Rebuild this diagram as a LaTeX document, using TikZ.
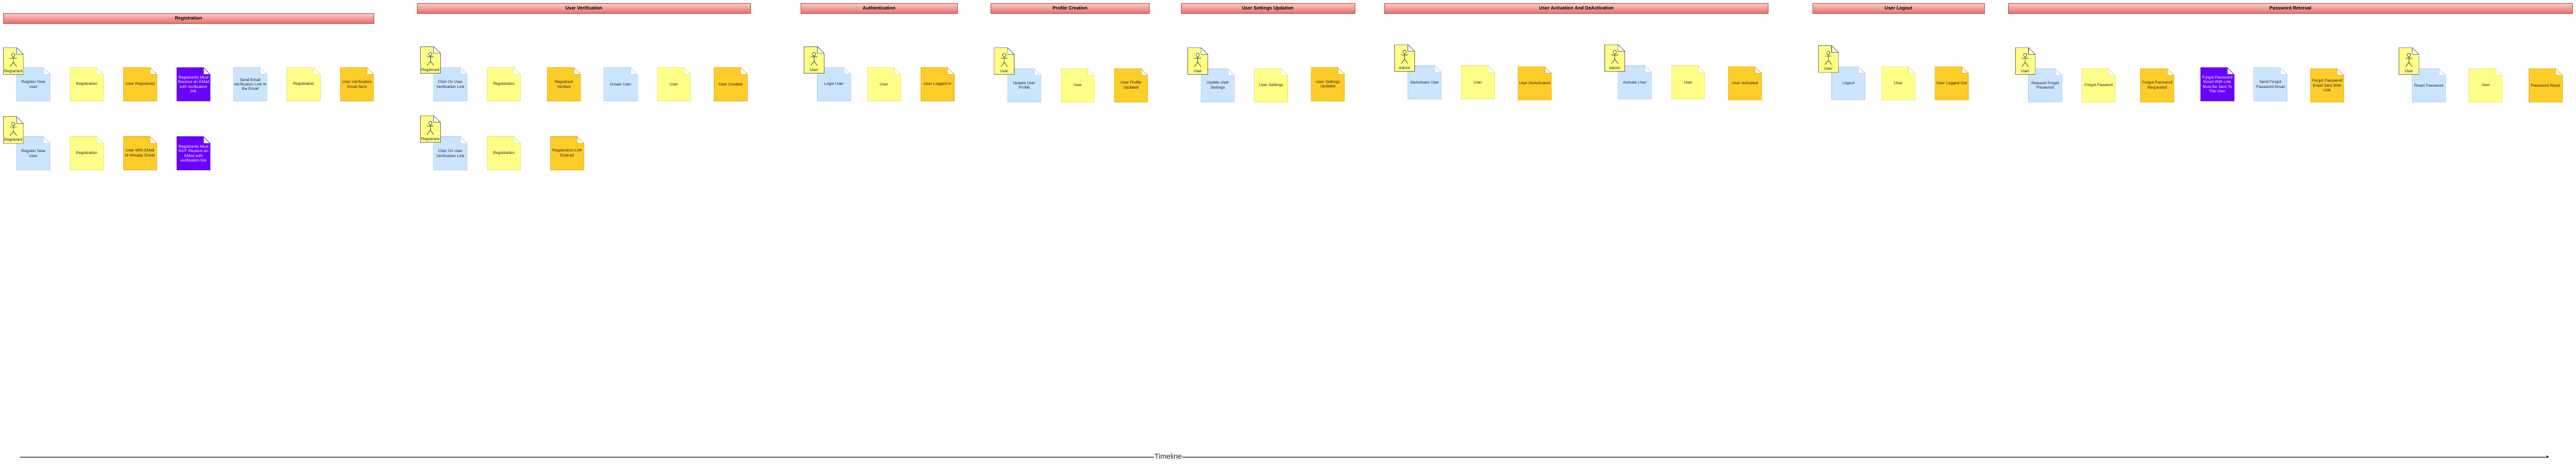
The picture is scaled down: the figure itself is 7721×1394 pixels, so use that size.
\documentclass[tikz,border=0pt]{standalone}
\usepackage{fontspec}
\setmainfont{Liberation Sans}
\usepackage{xcolor}
\usepackage{tikz}
\usetikzlibrary{arrows.meta,positioning}
\definecolor{cmdfill}{HTML}{CCE5FF}
\definecolor{cmdline}{HTML}{A9C4EB}
\definecolor{viewfill}{HTML}{FFFF88}
\definecolor{viewline}{HTML}{E0DC6E}
\definecolor{evtfill}{HTML}{FFCD28}
\definecolor{evtline}{HTML}{D79B00}
\definecolor{rulefill}{HTML}{6A00FF}
\definecolor{ruleline}{HTML}{3700CC}
\definecolor{actorline}{HTML}{36393D}
\definecolor{hdrtop}{HTML}{F8CECC}
\definecolor{hdrbot}{HTML}{EA6B66}
\definecolor{hdrline}{HTML}{B85450}
\definecolor{inktext}{HTML}{262626}
\makeatletter
\pgfdeclareshape{dognote}{
  \inheritsavedanchors[from=rectangle]
  \inheritanchorborder[from=rectangle]
  \inheritanchor[from=rectangle]{center}
  \inheritanchor[from=rectangle]{text}
  \inheritanchor[from=rectangle]{north}
  \inheritanchor[from=rectangle]{south}
  \inheritanchor[from=rectangle]{east}
  \inheritanchor[from=rectangle]{west}
  \inheritanchor[from=rectangle]{north west}
  \inheritanchor[from=rectangle]{north east}
  \inheritanchor[from=rectangle]{south west}
  \inheritanchor[from=rectangle]{south east}
  \backgroundpath{
    \southwest \pgf@xa=\pgf@x \pgf@ya=\pgf@y
    \northeast \pgf@xb=\pgf@x \pgf@yb=\pgf@y
    \pgf@xc=\pgf@xb \advance\pgf@xc by -20pt
    \pgf@yc=\pgf@yb \advance\pgf@yc by -20pt
    \pgfpathmoveto{\pgfqpoint{\pgf@xa}{\pgf@ya}}
    \pgfpathlineto{\pgfqpoint{\pgf@xa}{\pgf@yb}}
    \pgfpathlineto{\pgfqpoint{\pgf@xc}{\pgf@yb}}
    \pgfpathlineto{\pgfqpoint{\pgf@xb}{\pgf@yc}}
    \pgfpathlineto{\pgfqpoint{\pgf@xb}{\pgf@ya}}
    \pgfpathclose
    \pgfpathmoveto{\pgfqpoint{\pgf@xc}{\pgf@yb}}
    \pgfpathlineto{\pgfqpoint{\pgf@xc}{\pgf@yc}}
    \pgfpathlineto{\pgfqpoint{\pgf@xb}{\pgf@yc}}
  }
}
\makeatother

\begin{document}
\begin{tikzpicture}[x=1pt,y=1pt,line width=1pt,
      note/.style={shape=dognote,minimum width=100pt,minimum height=100pt,inner sep=0pt,outer sep=0pt,
                  align=center,text=inktext,font=\fontsize{12}{14}\selectfont},
      cmdnote/.style={note,draw=cmdline,fill=cmdfill},
      viewnote/.style={note,draw=viewline,fill=viewfill},
      evtnote/.style={note,draw=evtline,fill=evtfill},
      rulenote/.style={note,draw=ruleline,fill=rulefill,text=white},
      actornote/.style={note,draw=actorline,fill=viewfill,anchor=north west,
                  minimum width=60pt,minimum height=80pt,text height=70pt,text depth=2pt},
      stickman/.pic={
        \draw[black,line width=.9pt,fill=white] (0,18) circle[radius=5];
        \draw[black,line width=.9pt] (0,13) -- (0,-4) (-10,9) -- (10,9) (-10,-17) -- (0,-4) -- (10,-17);
      },
      hdr/.style={draw=hdrline,top color=hdrtop,bottom color=hdrbot,anchor=north west,minimum height=30pt,
                  inner sep=0pt,outer sep=0pt,font=\fontsize{14}{16}\selectfont\bfseries},
      ar/.style={-{Stealth[length=8pt,width=8pt]},black,line width=1pt}]
    \useasboundingbox (0,0) rectangle (7721,-1394);

    \node[hdr,minimum width=1110pt] (reghdr) at (10,-40) {Registration};
    \node[cmdnote,anchor=north west] (regcmd) at (50,-203) {Register New\\User};
    \node[viewnote,right=60pt of regcmd] (regview) {Registration};
    \node[evtnote,right=60pt of regview] (regevt) {User Registered};
    \node[rulenote,right=60pt of regevt] (regrule) {Registrants Must\\Receive an EMail\\with verification\\link};
    \node[cmdnote,right=70pt of regrule] (mailcmd) {Send Email\\Verification Link In\\the Email};
    \node[viewnote,right=60pt of mailcmd] (mailview) {Registration};
    \node[evtnote,right=60pt of mailview] (mailevt) {User Verification\\Email Sent};
    \node[actornote] (regactor) at (10,-143) {Registrant};
    \node[cmdnote,anchor=north west] (dupcmd) at (50,-410) {Register New\\User};
    \node[viewnote,right=60pt of dupcmd] (dupview) {Registration};
    \node[evtnote,right=60pt of dupview] (dupevt) {User With EMail\\Id Already Exists};
    \node[rulenote,right=60pt of dupevt] (duprule) {Registrants Must\\NOT Receive an\\EMail with\\verification link};
    \node[actornote] (dupactor) at (10,-350) {Registrant};

    \node[hdr,minimum width=1000pt] (verhdr) at (1250,-10) {User Verification};
    \node[cmdnote,anchor=north west] (vercmd) at (1300,-203) {Click On User\\Verification Link};
    \node[viewnote,right=60pt of vercmd] (verview) {Registration};
    \node[evtnote,right=80pt of verview] (verevt) {Registrant\\Verified};
    \node[cmdnote,right=70pt of verevt] (usercmd) {Create User};
    \node[viewnote,right=60pt of usercmd] (userview) {User};
    \node[evtnote,right=70pt of userview] (userevt) {User Created};
    \node[actornote] (veractor) at (1260,-140) {Registrant};
    \node[cmdnote,anchor=north west] (expcmd) at (1300,-410) {Click On User\\Verification Link};
    \node[viewnote,right=60pt of expcmd] (expview) {Registration};
    \node[evtnote,right=90pt of expview] (expevt) {Registration Link\\Expired};
    \node[actornote] (expactor) at (1260,-347) {Registrant};

    \node[hdr,minimum width=470pt] (authhdr) at (2400,-10) {Authentication};
    \node[cmdnote,anchor=north west] (authcmd) at (2450,-203) {Login User};
    \node[viewnote,right=50pt of authcmd] (authview) {User};
    \node[evtnote,right=60pt of authview] (authevt) {User Logged-In};
    \node[actornote] (authactor) at (2410,-140) {User};

    \node[hdr,minimum width=475pt] (profhdr) at (2970,-10) {Profile Creation};
    \node[cmdnote,anchor=north west] (profcmd) at (3020,-206) {Update User\\Profile};
    \node[viewnote,right=60pt of profcmd] (profview) {User};
    \node[evtnote,right=60pt of profview] (profevt) {User Profile\\Updated};
    \node[actornote] (profactor) at (2980,-143) {User};

    \node[hdr,minimum width=520pt] (sethdr) at (3540,-10) {User Settings Updation};
    \node[cmdnote,anchor=north west] (setcmd) at (3600,-206) {Update User\\Settings};
    \node[viewnote,right=60pt of setcmd] (setview) {User Settings};
    \node[evtnote,right=70pt of setview,yshift=3pt] (setevt) {User Settings\\Updated};
    \node[actornote] (setactor) at (3560,-143) {User};

    \node[hdr,minimum width=1150pt] (acthdr) at (4150,-10) {User Activation And DeActivation};
    \node[cmdnote,anchor=north west] (deacmd) at (4220,-197) {DeActivate User};
    \node[viewnote,right=60pt of deacmd] (deaview) {User};
    \node[evtnote,right=70pt of deaview,yshift=-3pt] (deaevt) {User DeActivated};
    \node[actornote] (deaactor) at (4180,-134) {Admin};
    \node[cmdnote,anchor=north west] (actcmd) at (4850,-197) {Activate User};
    \node[viewnote,right=60pt of actcmd] (actview) {User};
    \node[evtnote,right=70pt of actview,yshift=-3pt] (actevt) {User Activated};
    \node[actornote] (actactor) at (4810,-134) {Admin};

    \node[hdr,minimum width=515pt] (outhdr) at (5433,-10) {User Logout};
    \node[cmdnote,anchor=north west] (outcmd) at (5490,-200) {Logout};
    \node[viewnote,right=50pt of outcmd] (outview) {User};
    \node[evtnote,right=60pt of outview] (outevt) {User Logged-Out};
    \node[actornote] (outactor) at (5450,-137) {User};

    \node[hdr,minimum width=1690pt] (pwdhdr) at (6020,-10) {Password Retreval};
    \node[cmdnote,anchor=north west] (forcmd) at (6080,-206) {Request Forgot\\Password};
    \node[viewnote,right=60pt of forcmd] (forview) {Forgot Pasword};
    \node[evtnote,right=76pt of forview] (forevt) {Forgot Password\\Requested};
    \node[rulenote,right=80pt of forevt,yshift=3pt] (forrule) {Forgot Password\\Email With Link\\Must Be Sent To\\The User};
    \node[cmdnote,right=59pt of forrule] (sendcmd) {Send Forgot\\Password Email};
    \node[evtnote,right=70pt of sendcmd,yshift=-3pt] (sendevt) {Forgot Password\\Email Sent With\\Link};
    \node[actornote] (foractor) at (6040,-143) {User};
    \node[cmdnote,anchor=north west] (rstcmd) at (7230,-206) {Reset Password};
    \node[viewnote,right=70pt of rstcmd] (rstview) {User};
    \node[evtnote,right=80pt of rstview] (rstevt) {Password Reset};
    \node[actornote] (rstactor) at (7190,-143) {User};

    \foreach \who in {regactor,dupactor,veractor,expactor,authactor,profactor,setactor,deaactor,actactor,outactor,foractor,rstactor}
      \pic at (\who.center) {stickman};

    \coordinate (tstart) at (60,-1370);
    \coordinate (tend) at (7640,-1370);
    \draw[ar] (tstart) -- (tend) node[pos=.454,fill=white,inner sep=1pt,text=inktext,font=\fontsize{22}{24}\selectfont] (timelabel) {Timeline};
  \end{tikzpicture}
\end{document}
